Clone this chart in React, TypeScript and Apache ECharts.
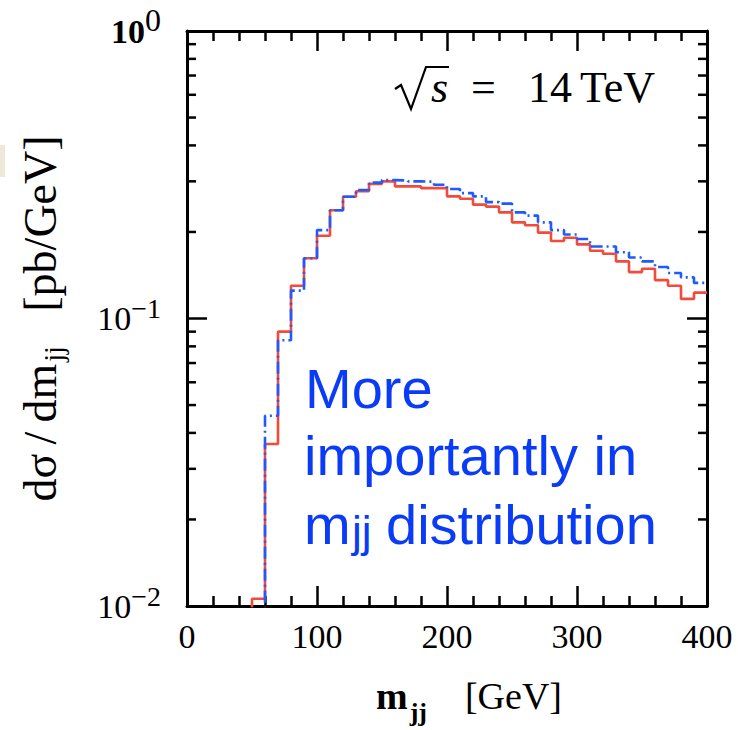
import { useEffect, useRef } from "react";
import * as echarts from "echarts";

// Histogram binning (GeV)
const BIN_WIDTH = 10;
const RED_FIRST_EDGE = 40;
const BLUE_FIRST_EDGE = 50;

// dσ/dm_jj per 10 GeV bin [pb/GeV]; first entries sit below the axis floor
const redValues = [
  0.008, 0.0106, 0.0366, 0.09, 0.13, 0.162, 0.194, 0.238, 0.265, 0.277,
  0.294, 0.3, 0.288, 0.288, 0.284, 0.284, 0.266, 0.261, 0.249, 0.245,
  0.234, 0.216, 0.211, 0.199, 0.186, 0.191, 0.181, 0.172, 0.168, 0.158,
  0.145, 0.149, 0.136, 0.13, 0.117, 0.123,
];
const blueValues = [
  0.008, 0.0459, 0.084, 0.125, 0.162, 0.203, 0.238, 0.265, 0.28, 0.297,
  0.303, 0.302, 0.3, 0.299, 0.292, 0.282, 0.273, 0.266, 0.254, 0.251,
  0.234, 0.228, 0.216, 0.203, 0.196, 0.189, 0.178, 0.178, 0.17, 0.163,
  0.158, 0.151, 0.144, 0.139, 0.133,
];

// Axes
const X_MIN = 0;
const X_MAX = 400;
const X_STEP = 100;
const Y_MIN = 0.01;
const Y_MAX = 1;
const yMinorTicks = [
  0.02, 0.03, 0.04, 0.05, 0.06, 0.07, 0.08, 0.09,
  0.2, 0.3, 0.4, 0.5, 0.6, 0.7, 0.8, 0.9,
];

const SERIF = "'Liberation Serif', 'Times New Roman', serif";
const SANS = "'Liberation Sans', Arial, sans-serif";
const RED = "#f24a3b";
const BLUE = "#1e5bff";
const NOTE_BLUE = "#0a3cf7";

function toSteps(firstEdge: number, values: number[]): number[][] {
  const pts = values.map((v, i) => [firstEdge + i * BIN_WIDTH, v]);
  pts.push([firstEdge + values.length * BIN_WIDTH, values[values.length - 1]]);
  return pts;
}

const tickLine = { color: "#000", width: 2.5 };

function xAxisBase(position: "top" | "bottom") {
  return {
    type: "value",
    position,
    min: X_MIN,
    max: X_MAX,
    interval: X_STEP,
    axisLine: { show: true, onZero: false, lineStyle: { color: "#000", width: 3 } },
    axisTick: { show: true, inside: true, length: 20, lineStyle: tickLine },
    minorTick: { show: true, splitNumber: 5, length: 10, lineStyle: tickLine },
    splitLine: { show: false },
    minorSplitLine: { show: false },
  };
}

function yAxisBase(position: "left" | "right") {
  return {
    type: "log",
    logBase: 10,
    position,
    min: Y_MIN,
    max: Y_MAX,
    axisLine: { show: true, onZero: false, lineStyle: { color: "#000", width: 3 } },
    axisTick: { show: true, inside: true, length: 20, lineStyle: tickLine },
    splitLine: { show: false },
  };
}

export default function App() {
  const ref = useRef<HTMLDivElement>(null);

  useEffect(() => {
    if (!ref.current) return;
    const chart = echarts.init(ref.current, null, { renderer: "svg" });

    const option = {
      animation: false,
      backgroundColor: "#fff",
      grid: { left: 187, right: 31, top: 31, bottom: 120 },
      xAxis: [
        {
          ...xAxisBase("bottom"),
          axisLabel: {
            show: true,
            fontFamily: SERIF,
            fontSize: 34,
            color: "#000",
            margin: 13,
          },
          name: "{m|m}{j|jj}{g|    [GeV]}",
          nameLocation: "middle",
          nameGap: 71,
          nameTextStyle: {
            padding: [0, 0, 0, 44],
            rich: {
              m: { fontFamily: SERIF, fontSize: 38, fontWeight: "bold", color: "#000", lineHeight: 44, verticalAlign: "top" },
              j: { fontFamily: SERIF, fontSize: 26, fontWeight: "bold", color: "#000", lineHeight: 26, padding: [22, 0, 0, 2], verticalAlign: "top" },
              g: { fontFamily: SERIF, fontSize: 38, color: "#000", lineHeight: 44, verticalAlign: "top" },
            },
          },
        },
        {
          ...xAxisBase("top"),
          axisLabel: { show: false },
        },
      ],
      yAxis: [
        {
          ...yAxisBase("left"),
          axisLabel: {
            show: true,
            margin: 26,
            formatter: (v: number) => {
              const e = Math.round(Math.log10(v));
              if (e === 0) return "{bb|10}{sb|0}";
              return `{b|10}{s|\u2212${-e}}`;
            },
            rich: {
              b: { fontFamily: SERIF, fontSize: 34, color: "#000", lineHeight: 34, verticalAlign: "bottom" },
              s: { fontFamily: SERIF, fontSize: 28, color: "#000", lineHeight: 28, padding: [0, 0, 13, 0], verticalAlign: "bottom" },
              bb: { fontFamily: SERIF, fontSize: 34, fontWeight: "bold", color: "#000", lineHeight: 34, verticalAlign: "bottom" },
              sb: { fontFamily: SERIF, fontSize: 32, color: "#000", lineHeight: 32, padding: [0, 0, 12, 0], verticalAlign: "bottom" },
            },
          },
          name: "{t|d\u03c3\u2009/\u2009dm}{j|jj}{t|   [pb/GeV]}",
          nameLocation: "middle",
          nameRotate: 90,
          nameGap: 120,
          nameTextStyle: {
            rich: {
              t: { fontFamily: SERIF, fontSize: 46, color: "#000", lineHeight: 50, verticalAlign: "top" },
              j: { fontFamily: SERIF, fontSize: 28, color: "#000", lineHeight: 28, padding: [22, 0, 0, 2], verticalAlign: "top" },
            },
          },
        },
        {
          ...yAxisBase("right"),
          axisLabel: { show: false },
        },
      ],
      series: [
        {
          name: "red",
          type: "line",
          step: "end",
          symbol: "none",
          clip: true,
          data: toSteps(RED_FIRST_EDGE, redValues),
          lineStyle: { color: RED, width: 2.6 },
          z: 2,
        },
        {
          name: "blue",
          type: "line",
          step: "end",
          symbol: "none",
          clip: true,
          data: toSteps(BLUE_FIRST_EDGE, blueValues),
          lineStyle: { color: BLUE, width: 2.6, type: [12, 4, 2, 4] },
          z: 3,
        },
        {
          // log-decade minor ticks on both vertical frame edges
          name: "minor ticks",
          type: "custom",
          silent: true,
          clip: false,
          data: yMinorTicks.map((v) => [X_MIN, v]),
          renderItem: (params: any, api: any) => {
            const cs = params.coordSys;
            const y = api.coord([X_MIN, api.value(1)])[1];
            const st = { stroke: "#000", lineWidth: 2.5 };
            return {
              type: "group",
              children: [
                { type: "line", shape: { x1: cs.x, y1: y, x2: cs.x + 9, y2: y }, style: st },
                { type: "line", shape: { x1: cs.x + cs.width - 9, y1: y, x2: cs.x + cs.width, y2: y }, style: st },
              ],
            };
          },
          z: 4,
        },
      ],
      graphic: [
        { type: "rect", shape: { x: 0, y: 145, width: 5, height: 32 }, style: { fill: "#ece9d9" } },
        // √s = 14 TeV
        {
          type: "polyline",
          shape: { points: [[395, 89], [401, 85], [411, 109], [426, 67], [449, 67]] },
          style: { stroke: "#000", lineWidth: 2.2, fill: null },
        },
        { type: "text", x: 431, y: 87, style: { text: "s", font: `italic 44px ${SERIF}`, fill: "#000", align: "left", verticalAlign: "middle" } },
        { type: "text", x: 471, y: 87, style: { text: "=", font: `44px ${SERIF}`, fill: "#000", align: "left", verticalAlign: "middle" } },
        { type: "text", x: 528, y: 87, style: { text: "14", font: `44px ${SERIF}`, fill: "#000", align: "left", verticalAlign: "middle" } },
        { type: "text", x: 580, y: 87, style: { text: "TeV", font: `44px ${SERIF}`, fill: "#000", align: "left", verticalAlign: "middle" } },
        // annotation
        { type: "text", x: 305, y: 388, style: { text: "More", font: `56px ${SANS}`, fill: NOTE_BLUE, align: "left", verticalAlign: "middle" } },
        { type: "text", x: 304, y: 455, style: { text: "importantly in", font: `56px ${SANS}`, fill: NOTE_BLUE, align: "left", verticalAlign: "middle" } },
        { type: "text", x: 304, y: 524, style: { text: "m", font: `56px ${SANS}`, fill: NOTE_BLUE, align: "left", verticalAlign: "middle" } },
        { type: "text", x: 352, y: 531, style: { text: "jj", font: `44px ${SANS}`, fill: NOTE_BLUE, align: "left", verticalAlign: "middle" } },
        { type: "text", x: 386, y: 524, style: { text: "distribution", font: `56px ${SANS}`, fill: NOTE_BLUE, align: "left", verticalAlign: "middle" } },
      ],
    };

    chart.setOption(option as any);
    return () => chart.dispose();
  }, []);

  return (
    <div
      ref={ref}
      style={{ position: "absolute", left: 0, top: 0, width: 738, height: 730 }}
    />
  );
}
